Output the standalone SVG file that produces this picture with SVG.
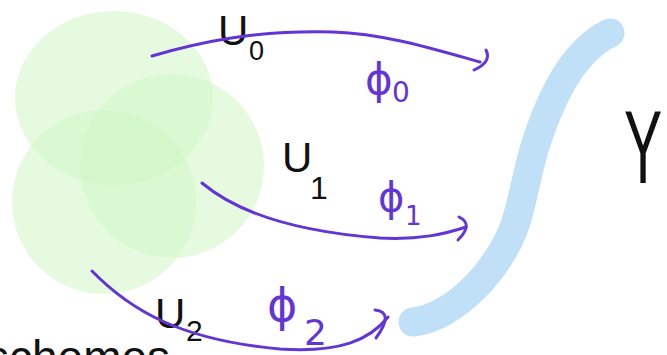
<svg xmlns="http://www.w3.org/2000/svg" width="667" height="355" viewBox="0 0 667 355">
  <style>
    .blob { fill: rgb(207,245,195); fill-opacity: 0.52; }
    .lbl { font-family: "Liberation Sans", "DejaVu Sans", sans-serif; fill: #111; }
    .phi { font-family: "DejaVu Sans", "Liberation Sans", sans-serif; fill: #6236d4; }
    .arrow { fill: none; stroke: #6236d4; stroke-width: 3; stroke-linecap: round; stroke-linejoin: round; }
    .space { fill: none; stroke: #c0e0f8; stroke-width: 29; stroke-linecap: round; }
  </style>
  <rect width="667" height="355" fill="#ffffff"/>

  <g id="U0">
    <ellipse class="blob" cx="114" cy="98" rx="99" ry="87"/>
    <text class="lbl" x="218" y="45" font-size="42">U</text>
    <text class="lbl" x="249" y="60" font-size="27">0</text>
  </g>
  <g id="U1">
    <ellipse class="blob" cx="172" cy="166" rx="92" ry="92"/>
    <text class="lbl" x="282" y="172" font-size="42">U</text>
    <text class="lbl" x="310" y="199" font-size="32">1</text>
  </g>
  <g id="U2">
    <ellipse class="blob" cx="104" cy="202" rx="92" ry="92"/>
    <text class="lbl" x="155" y="328" font-size="42">U</text>
    <text class="lbl" x="186" y="341" font-size="30">2</text>
  </g>

  <g id="Y">
    <path class="space" d="M 413 322 C 455 318, 505 265, 518 215 C 526 185, 530 160, 537 140 C 545 115, 560 80, 577 60 C 588 47, 598 38, 610 33"/>
    <text class="lbl" transform="translate(643,183) scale(0.55,1)" text-anchor="middle" font-size="104">Y</text>
  </g>

  <g id="connectors">
    <g id="phi0">
      <path class="arrow" d="M 152 56 C 200 42, 255 30, 333 32 C 385 34, 430 48, 480 62"/>
      <path class="arrow" d="M 474 70 Q 492 62 486 50"/>
      <text class="phi" x="365" y="94" font-size="42">ϕ</text>
      <text class="phi" x="392" y="102" font-size="28">0</text>
    </g>
    <g id="phi1">
      <path class="arrow" d="M 202 183 C 240 215, 300 232, 380 238 C 420 240, 445 234, 466 227"/>
      <path class="arrow" d="M 459 217 Q 474 224 458 240"/>
      <text class="phi" x="378" y="211" font-size="40">ϕ</text>
      <text class="phi" x="405" y="225" font-size="26">1</text>
    </g>
    <g id="phi2">
      <path class="arrow" d="M 92 271 C 130 310, 180 340, 280 349 C 340 353, 370 340, 388 317"/>
      <path class="arrow" d="M 375 310 Q 395 312 376 338"/>
      <text class="phi" x="267" y="321" font-size="46">ϕ</text>
      <text class="phi" x="304" y="345" font-size="36">2</text>
    </g>
  </g>

  <text class="lbl" x="-14" y="373" font-size="46">schemes</text>
</svg>
